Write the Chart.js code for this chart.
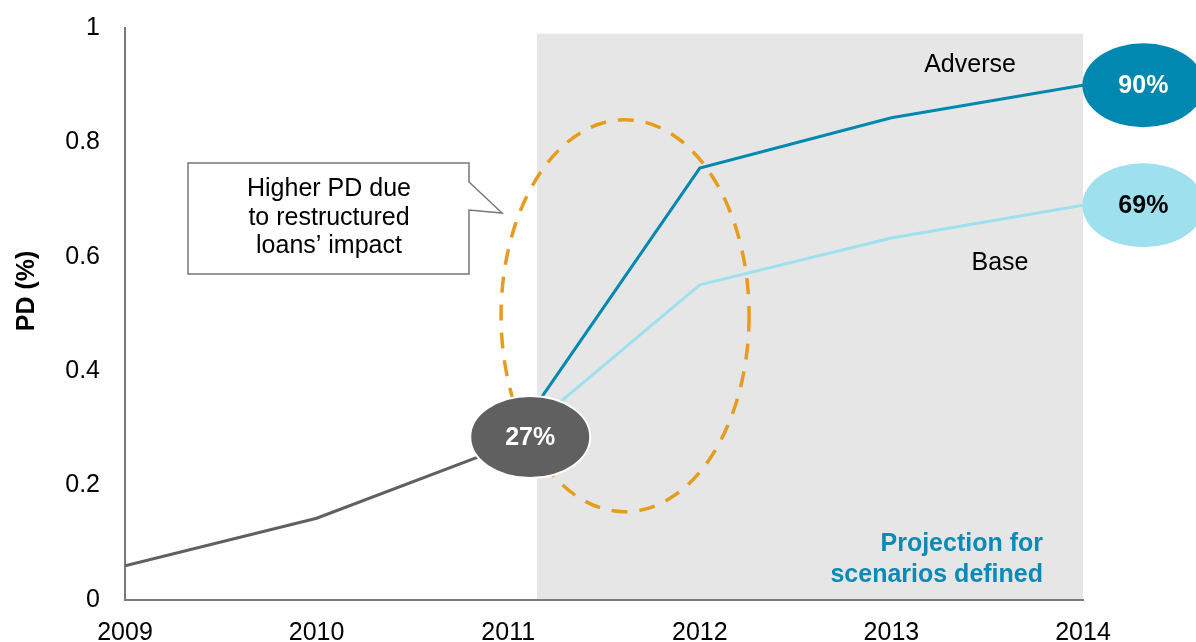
<!DOCTYPE html>
<html>
<head>
<meta charset="utf-8">
<script src="https://cdn.jsdelivr.net/npm/chart.js@4"></script>
<style>
  html, body { margin: 0; padding: 0; background: #ffffff; }
  #wrap { width: 1196px; height: 642px; }
</style>
</head>
<body>
<div id="wrap"><canvas id="c" width="1196" height="642"></canvas></div>
<script>
// ---- data ----
const historyYears = [2009, 2010, 2011];
const historyPD = [0.06, 0.143, 0.27];
const projYears = [2011, 2012, 2013, 2014];
const adversePD = [0.27, 0.755, 0.843, 0.90];
const basePD = [0.27, 0.551, 0.633, 0.69];
const xTickValues = [2009, 2010, 2011, 2012, 2013, 2014];
const yTickLabels = ['0', '0.2', '0.4', '0.6', '0.8', '1'];
const labelHistory = '27%';
const labelAdverse = '90%';
const labelBase = '69%';

const FONT = "Arial, 'Liberation Sans', Helvetica, sans-serif";
const C_GRAY = '#606060';
const C_ADV = '#0088b0';
const C_BASE = '#9ee0ee';
const C_ORANGE = '#e69c1e';

function pts(xs, ys) { return xs.map((x, i) => ({ x: x, y: ys[i] })); }

function ellipse(ctx, cx, cy, rx, ry) {
  ctx.beginPath();
  ctx.ellipse(cx, cy, rx, ry, 0, 0, Math.PI * 2);
}

const annot = {
  id: 'annot',
  beforeDraw(chart) {
    const { ctx, scales: { x, y } } = chart;
    ctx.save();
    const x0 = x.getPixelForValue(2011.15);
    const x1 = x.getPixelForValue(2014);
    const y0 = y.getPixelForValue(0.99);
    const y1 = y.getPixelForValue(0);
    ctx.fillStyle = '#e6e6e6';
    ctx.fillRect(x0, y0, x1 - x0, y1 - y0);
    ctx.restore();
  },
  afterDatasetsDraw(chart) {
    const { ctx, scales: { x, y } } = chart;
    ctx.save();
    // dashed orange ellipse
    ctx.setLineDash([16, 12]);
    ctx.lineWidth = 3.5;
    ctx.strokeStyle = C_ORANGE;
    ellipse(ctx, x.getPixelForValue(2011.61), y.getPixelForValue(0.497), 124, 196);
    ctx.stroke();
    ctx.setLineDash([]);

    // callout box
    ctx.beginPath();
    ctx.moveTo(188, 163);
    ctx.lineTo(469, 163);
    ctx.lineTo(469, 182);
    ctx.lineTo(502, 213);
    ctx.lineTo(469, 210);
    ctx.lineTo(469, 274);
    ctx.lineTo(188, 274);
    ctx.closePath();
    ctx.fillStyle = '#ffffff';
    ctx.fill();
    ctx.lineWidth = 1.5;
    ctx.strokeStyle = '#777777';
    ctx.stroke();
    ctx.fillStyle = '#000000';
    ctx.font = '25px ' + FONT;
    ctx.textAlign = 'center';
    ctx.textBaseline = 'middle';
    ctx.fillText('Higher PD due', 329, 189);
    ctx.fillText('to restructured', 329, 218);
    ctx.fillText('loans\u2019 impact', 329, 246);

    // 27% bubble
    const hx = x.getPixelForValue(2011.115), hy = y.getPixelForValue(0.285);
    ellipse(ctx, hx, hy, 60, 41);
    ctx.fillStyle = C_GRAY;
    ctx.fill();
    ctx.lineWidth = 2;
    ctx.strokeStyle = '#ffffff';
    ctx.stroke();
    ctx.fillStyle = '#ffffff';
    ctx.font = 'bold 25px ' + FONT;
    ctx.fillText(labelHistory, hx, hy + 1);

    // 90% bubble
    const ax = x.getPixelForValue(2014.315);
    const ay = y.getPixelForValue(adversePD[3]);
    ellipse(ctx, ax, ay, 61, 42);
    ctx.fillStyle = C_ADV;
    ctx.fill();
    ctx.fillStyle = '#ffffff';
    ctx.fillText(labelAdverse, ax, ay + 1);

    // 69% bubble
    const by = y.getPixelForValue(basePD[3]);
    ellipse(ctx, ax, by, 61, 42);
    ctx.fillStyle = C_BASE;
    ctx.fill();
    ctx.fillStyle = '#000000';
    ctx.fillText(labelBase, ax, by + 1);

    // series labels
    ctx.font = '25px ' + FONT;
    ctx.fillStyle = '#000000';
    ctx.fillText('Adverse', 970, 65);
    ctx.fillText('Base', 1000, 263);

    // projection label
    ctx.font = 'bold 25px ' + FONT;
    ctx.fillStyle = '#0a8ab5';
    ctx.textAlign = 'right';
    ctx.fillText('Projection for', 1043, 544);
    ctx.fillText('scenarios defined', 1043, 575);

    // y axis title
    ctx.translate(27, 291);
    ctx.rotate(-Math.PI / 2);
    ctx.textAlign = 'center';
    ctx.textBaseline = 'middle';
    ctx.font = 'bold 25px ' + FONT;
    ctx.fillStyle = '#000000';
    ctx.fillText('PD (%)', 0, 0);
    ctx.restore();
  }
};

new Chart(document.getElementById('c'), {
  type: 'line',
  data: {
    datasets: [
      { label: 'History', data: pts(historyYears, historyPD), borderColor: C_GRAY, borderWidth: 3, pointRadius: 0, tension: 0, fill: false },
      { label: 'Base', data: pts(projYears, basePD), borderColor: C_BASE, borderWidth: 3, pointRadius: 0, tension: 0, fill: false },
      { label: 'Adverse', data: pts(projYears, adversePD), borderColor: C_ADV, borderWidth: 3, pointRadius: 0, tension: 0, fill: false }
    ]
  },
  options: {
    responsive: false,
    devicePixelRatio: 1,
    animation: false,
    layout: { padding: { top: 28, right: 113, bottom: 0, left: 0 } },
    plugins: { legend: { display: false }, tooltip: { enabled: false } },
    scales: {
      x: {
        type: 'linear',
        min: 2009,
        max: 2014,
        afterBuildTicks(scale) { scale.ticks = xTickValues.map(v => ({ value: v })); },
        ticks: {
          padding: 18,
          color: '#000000',
          font: { family: FONT, size: 25 },
          maxRotation: 0,
          autoSkip: false,
          callback: (v) => String(v)
        },
        grid: { display: true, color: 'rgba(0,0,0,0)', drawTicks: false },
        border: { display: true, color: '#7a7a7a', width: 2 },
        afterFit(scale) { scale.height = 42; }
      },
      y: {
        type: 'linear',
        min: 0,
        max: 1,
        afterBuildTicks(scale) { scale.ticks = yTickLabels.map(v => ({ value: parseFloat(v) })); },
        ticks: {
          padding: 25,
          color: '#000000',
          font: { family: FONT, size: 25 },
          autoSkip: false,
          callback: (v, i) => yTickLabels[i]
        },
        grid: { display: true, color: 'rgba(0,0,0,0)', drawTicks: false },
        border: { display: true, color: '#7a7a7a', width: 2 },
        afterFit(scale) { scale.width = 125; scale.paddingTop = 0; scale.paddingBottom = 0; }
      }
    }
  },
  plugins: [annot]
});
</script>
</body>
</html>
